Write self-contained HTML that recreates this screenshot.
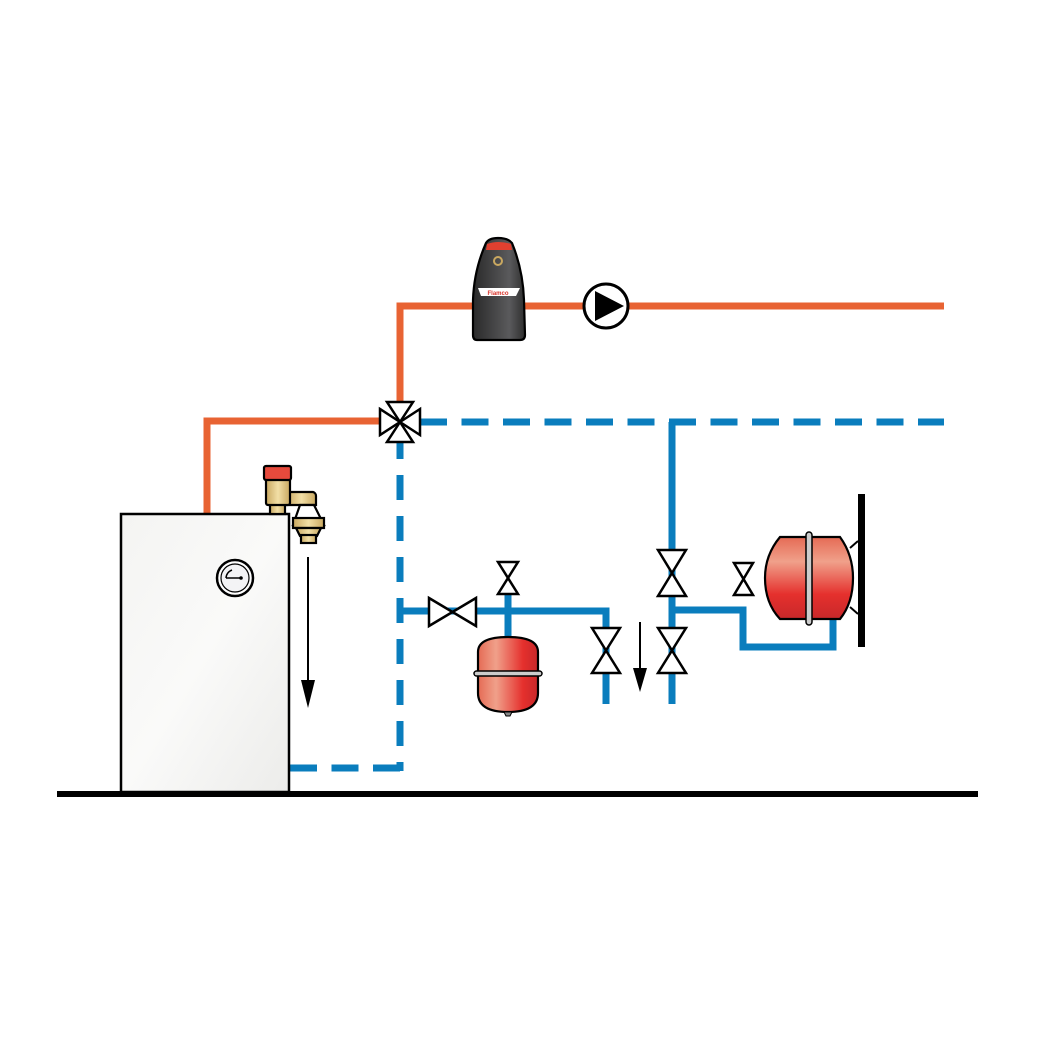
<!DOCTYPE html>
<html><head><style>html,body{margin:0;padding:0;background:#fff}svg{display:block}</style></head><body>
<svg width="1050" height="1050" viewBox="0 0 1050 1050" xmlns="http://www.w3.org/2000/svg">
<defs>
<linearGradient id="red" x1="0" x2="1"><stop offset="0" stop-color="#e56b55"/><stop offset="0.3" stop-color="#f0a08a"/><stop offset="0.75" stop-color="#e5302d"/><stop offset="1" stop-color="#c8282a"/></linearGradient>
<linearGradient id="redv" x1="0" x2="0" y1="0" y2="1"><stop offset="0" stop-color="#e56b55"/><stop offset="0.3" stop-color="#f0a08a"/><stop offset="0.7" stop-color="#e5302d"/><stop offset="1" stop-color="#c8282a"/></linearGradient>
<linearGradient id="dark" x1="0" x2="1"><stop offset="0" stop-color="#2a2a2a"/><stop offset="0.7" stop-color="#5a5a5c"/><stop offset="1" stop-color="#2e2e2e"/></linearGradient>
<linearGradient id="brass" x1="0" x2="1"><stop offset="0" stop-color="#c9a860"/><stop offset="0.5" stop-color="#f2dfa6"/><stop offset="1" stop-color="#c9a860"/></linearGradient>
<linearGradient id="boil" x1="0" x2="1" y1="0" y2="1"><stop offset="0" stop-color="#f4f4f2"/><stop offset="0.5" stop-color="#fafaf9"/><stop offset="1" stop-color="#ececea"/></linearGradient>
</defs>
<rect x="57" y="791" width="921" height="6" fill="#000"/>
<g stroke="#e86333" stroke-width="7" fill="none">
<polyline points="207,516 207,421 388,421"/>
<polyline points="400,410 400,306 472,306"/>
<line x1="525" y1="306" x2="584" y2="306"/>
<line x1="628" y1="306" x2="944" y2="306"/>
</g>
<g stroke="#0a7dbd" stroke-width="7" fill="none">
<line x1="420" y1="422" x2="944" y2="422" stroke-dasharray="27,14.5"/>
<line x1="400" y1="434" x2="400" y2="771" stroke-dasharray="25,16"/>
<line x1="400" y1="768" x2="289" y2="768" stroke-dasharray="27,14.5"/>
</g>
<g stroke="#0a7dbd" stroke-width="7" fill="none">
<polyline points="400,611 606,611 606,704"/>
<line x1="672" y1="422" x2="672" y2="704"/>
<polyline points="672,610 743,610 743,647 833,647 833,620"/>
<line x1="508" y1="595" x2="508" y2="640"/>
</g>
<rect x="121" y="514" width="168" height="278" fill="url(#boil)" stroke="#000" stroke-width="2.5"/>
<circle cx="235" cy="578" r="18" fill="#fff" stroke="#000" stroke-width="2.5"/>
<circle cx="235" cy="578" r="14" fill="#f3f3f5" stroke="#000" stroke-width="1.2"/>
<path d="M226,578 A9,9 0 0 1 232,570" fill="none" stroke="#000" stroke-width="1.5"/>
<line x1="226" y1="578" x2="241" y2="578" stroke="#000" stroke-width="1.5"/>
<circle cx="241" cy="578" r="1.8" fill="#000"/>
<g stroke="#000" stroke-width="2.2">
<rect x="270" y="503" width="15" height="11" fill="url(#brass)"/>
<path d="M287,492 h26 a4,4 0 0 1 3,4 v9 h-29 z" fill="url(#brass)"/>
<rect x="266" y="476" width="24" height="29" rx="2" fill="url(#brass)"/>
<rect x="264" y="466" width="27" height="14" rx="2" fill="#e64a3c"/>
<path d="M300,505 h14 l10,20 h-31 z" fill="#fff"/>
<rect x="293" y="518" width="31" height="10" fill="url(#brass)"/>
<path d="M296,528 h25 l-4,8 h-17 z" fill="url(#brass)"/>
<rect x="301" y="535" width="15" height="8" fill="url(#brass)"/>
</g>
<line x1="308" y1="557" x2="308" y2="685" stroke="#000" stroke-width="2"/>
<polygon points="301,680 315,680 308,708" fill="#000"/>
<line x1="640" y1="622" x2="640" y2="672" stroke="#000" stroke-width="2"/>
<polygon points="633,668 647,668 640,692" fill="#000"/>
<path d="M486,243 Q489,238 498,238 Q508,238 512,243 Q523,270 524,300 L525,335 Q525,340 520,340 L477,340 Q473,340 473,335 L473,300 Q474,270 486,243 Z" fill="url(#dark)" stroke="#000" stroke-width="2.2"/>
<path d="M487,244 Q498,240 511,244 L512,250 L486,250 Z" fill="#e04030"/>
<circle cx="498" cy="261" r="4" fill="none" stroke="#c9a860" stroke-width="2"/>
<path d="M478,288 L520,288 L516,296 L481,296 Z" fill="#fff"/>
<text x="498" y="295" font-family="Liberation Sans, sans-serif" font-size="6" font-weight="bold" fill="#d8332a" text-anchor="middle">Flamco</text>
<circle cx="606" cy="306" r="22" fill="#fff" stroke="#000" stroke-width="3"/>
<polygon points="595,291 595,321 624,306" fill="#000"/>
<g fill="#fff" stroke="#000" stroke-width="2.5" stroke-linejoin="miter">
<polygon points="380,409 380,435 400,422"/>
<polygon points="420,409 420,435 400,422"/>
<polygon points="387,402 413,402 400,422"/>
<polygon points="387,442 413,442 400,422"/>
</g>
<g fill="#fff" stroke="#000" stroke-width="2.5">
<polygon points="429,598 429,626 476,598 476,626"/>
<polygon points="498,562 518,562 498,594 518,594"/>
<polygon points="592,628 620,628 592,673 620,673"/>
<polygon points="658,550 686,550 658,596 686,596"/>
<polygon points="658,628 686,628 658,673 686,673"/>
<polygon points="734,563 753,563 734,595 753,595"/>
</g>
<path d="M478,652 Q478,637 508,637 Q538,637 538,652 L538,693 Q538,712 508,712 Q478,712 478,693 Z" fill="url(#red)" stroke="#000" stroke-width="2.2"/>
<rect x="474" y="671" width="68" height="5" rx="2.5" fill="#ccc" stroke="#000" stroke-width="1.5"/>
<path d="M504,712 h8 l-2,4 h-4z" fill="#888" stroke="#000" stroke-width="1"/>
<line x1="850" y1="548" x2="858" y2="541" stroke="#000" stroke-width="2"/>
<line x1="850" y1="607" x2="858" y2="614" stroke="#000" stroke-width="2"/>
<rect x="858" y="494" width="7" height="153" fill="#000"/>
<path d="M780,537 L840,537 Q853,555 853,578 Q853,603 840,619 L780,619 Q765,603 765,578 Q765,555 780,537 Z" fill="url(#redv)" stroke="#000" stroke-width="2.2"/>
<rect x="806" y="532" width="6" height="93" rx="3" fill="#ccc" stroke="#000" stroke-width="1.5"/>
</svg>
</body></html>
